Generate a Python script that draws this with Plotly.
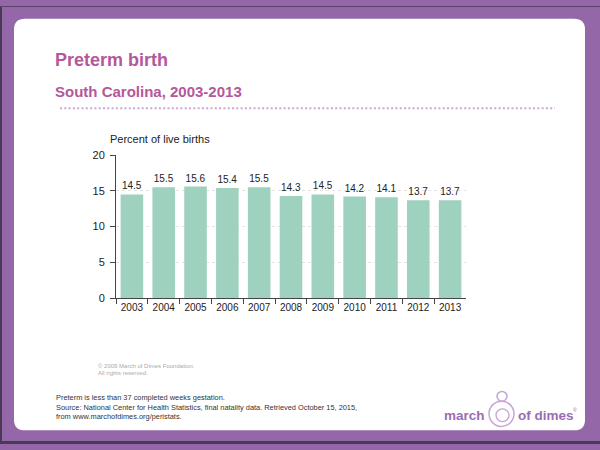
import plotly.graph_objects as go

years = ["2003", "2004", "2005", "2006", "2007", "2008", "2009", "2010", "2011", "2012", "2013"]
preterm_pct = [14.5, 15.5, 15.6, 15.4, 15.5, 14.3, 14.5, 14.2, 14.1, 13.7, 13.7]
y_ticks = [0, 5, 10, 15, 20]

W, H = 600, 450
def px(x):
    return x / W
def py(y):
    return 1 - y / H

PURPLE = "#9467a9"
PINK = "#b5579b"
BAR = "#9fd1bf"
FONT = "Liberation Sans, Arial, sans-serif"

fig = go.Figure()
fig.add_trace(go.Bar(
    x=years, y=preterm_pct,
    marker=dict(color=BAR, line=dict(width=0)),
    text=[f"{v:.1f}" for v in preterm_pct],
    textposition="outside",
    textfont=dict(size=10, color="#222", family=FONT),
    cliponaxis=False,
    hoverinfo="skip",
))

shapes = []
# white rounded panel
x0, x1, y0, y1, r = 14, 585, 13, 436, 11
path = (f"M {px(x0+r)},{py(y0)} L {px(x1-r)},{py(y0)} "
        f"Q {px(x1)},{py(y0)} {px(x1)},{py(y0+r)} L {px(x1)},{py(y1-r)} "
        f"Q {px(x1)},{py(y1)} {px(x1-r)},{py(y1)} L {px(x0+r)},{py(y1)} "
        f"Q {px(x0)},{py(y1)} {px(x0)},{py(y1-r)} L {px(x0)},{py(y0+r)} "
        f"Q {px(x0)},{py(y0)} {px(x0+r)},{py(y0)} Z")
shapes.append(dict(type="path", xref="paper", yref="paper", path=path,
                   fillcolor="white", line=dict(width=0), layer="below"))
# dark edges
shapes.append(dict(type="rect", xref="paper", yref="paper", x0=0, x1=px(2), y0=0, y1=1,
                   fillcolor="#4b3a56", line=dict(width=0), layer="below"))
shapes.append(dict(type="rect", xref="paper", yref="paper", x0=0, x1=1, y0=py(450), y1=py(447),
                   fillcolor="#4b3a56", line=dict(width=0), layer="below"))
shapes.append(dict(type="rect", xref="paper", yref="paper", x0=0, x1=1, y0=py(1), y1=1,
                   fillcolor="#5a4466", line=dict(width=0), layer="below"))
# dotted separator
shapes.append(dict(type="line", xref="paper", yref="paper", x0=px(60), x1=px(555),
                   y0=py(105), y1=py(105), line=dict(color="#c9a8d8", width=2, dash="2px,2.3px")))
# logo icon
ic = "#c6a4d8"
shapes.append(dict(type="circle", xref="paper", yref="paper", x0=px(497), x1=px(507),
                   y0=py(406), y1=py(396), line=dict(color=ic, width=1.5)))
shapes.append(dict(type="circle", xref="paper", yref="paper", x0=px(489), x1=px(514),
                   y0=py(432), y1=py(406), line=dict(color=ic, width=1.5)))
shapes.append(dict(type="circle", xref="paper", yref="paper", x0=px(496), x1=px(509),
                   y0=py(427), y1=py(414), line=dict(color=ic, width=1.3)))

ann = []
def text(x, y, s, size, color, bold=False, xanchor="left", family=FONT):
    ann.append(dict(xref="paper", yref="paper", x=px(x), y=py(y), text=(f"<b>{s}</b>" if bold else s),
                    showarrow=False, xanchor=xanchor, yanchor="middle",
                    font=dict(size=size, color=color, family=family), align="left"))

text(53, 55, "Preterm birth", 18, PINK, bold=True)
text(53, 88, "South Carolina, 2003-2013", 15, PINK, bold=True)
text(108, 137, "Percent of live births", 11, "#222")
text(96, 370, "© 2009 March of Dimes Foundation.", 6, "#aaa")
text(96, 377, "All rights reserved.", 6, "#aaa")
text(54, 402, "Preterm is less than 37 completed weeks gestation.", 7.4, "#333")
text(54, 412, "Source: National Center for Health Statistics, final natality data. Retrieved October 15, 2015,", 7.4, "#333")
text(54, 422, "from www.marchofdimes.org/peristats.", 7.4, "#333")
text(442, 421, "march", 13.5, "#9b6cb4", bold=True)
text(516, 421, "of dimes", 13.5, "#9b6cb4", bold=True)
text(571, 415, "®", 5, "#9b6cb4")

fig.update_layout(
    width=W, height=H,
    margin=dict(l=0, r=0, t=0, b=0),
    paper_bgcolor=PURPLE,
    plot_bgcolor="white",
    showlegend=False,
    bargap=0.29,
    shapes=shapes,
    annotations=ann,
    font=dict(family=FONT),
    xaxis=dict(domain=[px(116), px(466)], type="category",
               showline=True, linecolor="#444", linewidth=1,
               ticks="outside", tickson="boundaries", ticklen=5, tickcolor="#444",
               tickfont=dict(size=10, color="#222"), showgrid=False),
    yaxis=dict(domain=[py(300), py(153.3)], range=[0, 20], tickvals=y_ticks,
               showline=True, linecolor="#444", linewidth=1,
               ticks="outside", ticklen=5, tickcolor="#444",
               tickfont=dict(size=11, color="#222"), ticklabelstandoff=3,
               showgrid=True, gridcolor="#e3e3e3", griddash="dot", gridwidth=1,
               zeroline=False),
)

fig.write_html("out.html", config={"displayModeBar": False},
               post_script="document.body.style.margin='0';document.body.style.overflow='hidden';")
